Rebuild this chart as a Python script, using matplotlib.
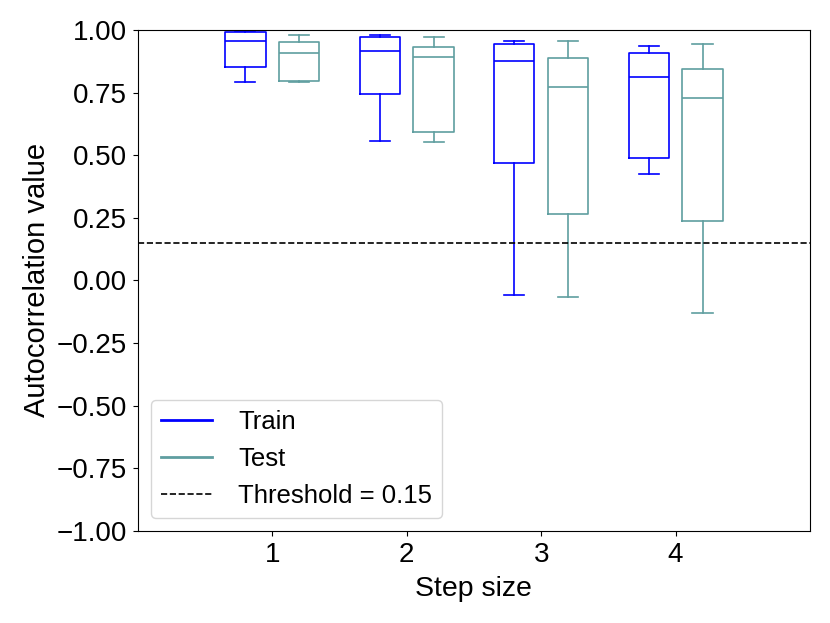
import matplotlib
matplotlib.use("Agg")
from matplotlib import pyplot as plt
from matplotlib.lines import Line2D
import numpy as np

plt.rcParams['font.family'] = ['Liberation Sans', 'DejaVu Sans']

steps = [1, 2, 3, 4]

# five-number summaries: whislo, q1, med, q3, whishi
train_lo = [0.790, 0.555, -0.060, 0.424]
train_q1 = [0.851, 0.743, 0.469, 0.489]
train_med = [0.956, 0.916, 0.877, 0.812]
train_q3 = [0.990, 0.972, 0.944, 0.907]
train_hi = [0.995, 0.979, 0.956, 0.936]

test_lo = [0.790, 0.552, -0.067, -0.131]
test_q1 = [0.795, 0.593, 0.263, 0.235]
test_med = [0.909, 0.893, 0.773, 0.728]
test_q3 = [0.952, 0.933, 0.889, 0.843]
test_hi = [0.981, 0.972, 0.956, 0.944]

threshold = 0.15


def make_stats(lo, q1, med, q3, hi):
    return [dict(whislo=a, q1=b, med=c, q3=d, whishi=e, fliers=[])
            for a, b, c, d, e in zip(lo, q1, med, q3, hi)]


def style(color):
    return dict(
        boxprops=dict(color=color, linewidth=1.2),
        medianprops=dict(color=color, linewidth=1.2),
        whiskerprops=dict(color=color, linewidth=1.2),
        capprops=dict(color=color, linewidth=1.2),
    )


fig = plt.figure(figsize=(8.3, 6.23), dpi=100)
ax = fig.add_axes([0.166, 0.148, 0.81, 0.804])

x = np.array(steps)
ax.bxp(make_stats(train_lo, train_q1, train_med, train_q3, train_hi),
       positions=x - 0.2, widths=0.3, showfliers=False, manage_ticks=False,
       **style('blue'))
ax.bxp(make_stats(test_lo, test_q1, test_med, test_q3, test_hi),
       positions=x + 0.2, widths=0.3, showfliers=False, manage_ticks=False,
       **style('cadetblue'))

ax.axhline(threshold, color='black', linestyle='--', linewidth=1.2)

ax.set_xlim(0, 5)
ax.set_ylim(-1, 1)
ax.set_xticks(steps)
yt = np.arange(-1, 1.01, 0.25)
ax.set_yticks(yt)
ax.set_yticklabels([f"{v:.2f}".replace('-', '\u2212') for v in yt])
ax.tick_params(labelsize=20, pad=4.5)
ax.set_xlabel("Step size", fontsize=20.5, labelpad=6)
ax.set_ylabel("Autocorrelation value", fontsize=21)

handles = [
    Line2D([], [], color='blue', linewidth=2),
    Line2D([], [], color='cadetblue', linewidth=2),
    Line2D([], [], color='black', linestyle='--', linewidth=1.2),
]
ax.legend(handles, ["Train", "Test", f"Threshold = {threshold}"],
          loc='lower left', fontsize=18.5, handletextpad=1.0)

fig.savefig("out.png", dpi=100)
